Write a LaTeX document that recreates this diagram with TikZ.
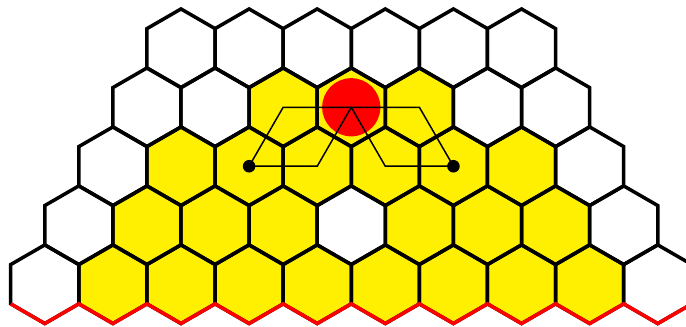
\documentclass[tikz,border=0pt]{standalone}
\usetikzlibrary{calc}
\definecolor{cellyellow}{RGB}{255,239,0}
\begin{document}
\begin{tikzpicture}[
    x=39.32pt,y=39.32pt,
    hexline/.style={line width=3.5pt},
    pathline/.style={line width=1.5pt}]
    \def\sq{1.7320508}
    \def\rdot{0.16}
    \useasboundingbox (-4.603,-7.088) rectangle (12.843,1.228);
    \clip (-4.603,-7.088) rectangle (12.843,1.228);

    % centres of the cells
    \foreach \r in {0,...,4} {
        \pgfmathtruncatemacro{\kmax}{5+\r}
        \foreach \k in {0,...,\kmax}
            \coordinate (h-\r-\k) at ({\sq*(\k-\r/2)},{-1.5*\r});
    }

    \foreach \c in {1-2,1-3,1-4,2-1,2-2,2-3,2-4,2-5,2-6,
                    3-1,3-2,3-3,3-5,3-6,3-7,4-1,4-2,4-3,4-4,4-5,4-6,4-7,4-8}
        \fill[cellyellow,shift={(h-\c)}]
            (30:1) -- (90:1) -- (150:1) -- (210:1) -- (270:1) -- (330:1) -- cycle;

    \foreach \r in {0,...,4} {
        \pgfmathtruncatemacro{\kmax}{5+\r}
        \foreach \k in {0,...,\kmax}
            \draw[hexline,shift={(h-\r-\k)}]
                (30:1) -- (90:1) -- (150:1) -- (210:1) -- (270:1) -- (330:1) -- cycle;
    }
    \draw[hexline,red] ($(h-4-0)+(210:1)$) \foreach \k in {0,...,9} { -- ++(-30:1) -- ++(30:1) };

    \fill[red] (h-1-3) circle (0.74);
    \draw[pathline] (h-2-2) -- (h-1-2) -- (h-1-4) -- (h-2-5);
    \draw[pathline] (h-2-2) -- (h-2-3) -- (h-1-3) -- (h-2-4) -- (h-2-5);
    \fill (h-2-2) circle (\rdot);
    \fill (h-2-5) circle (\rdot);
\end{tikzpicture}
\end{document}
